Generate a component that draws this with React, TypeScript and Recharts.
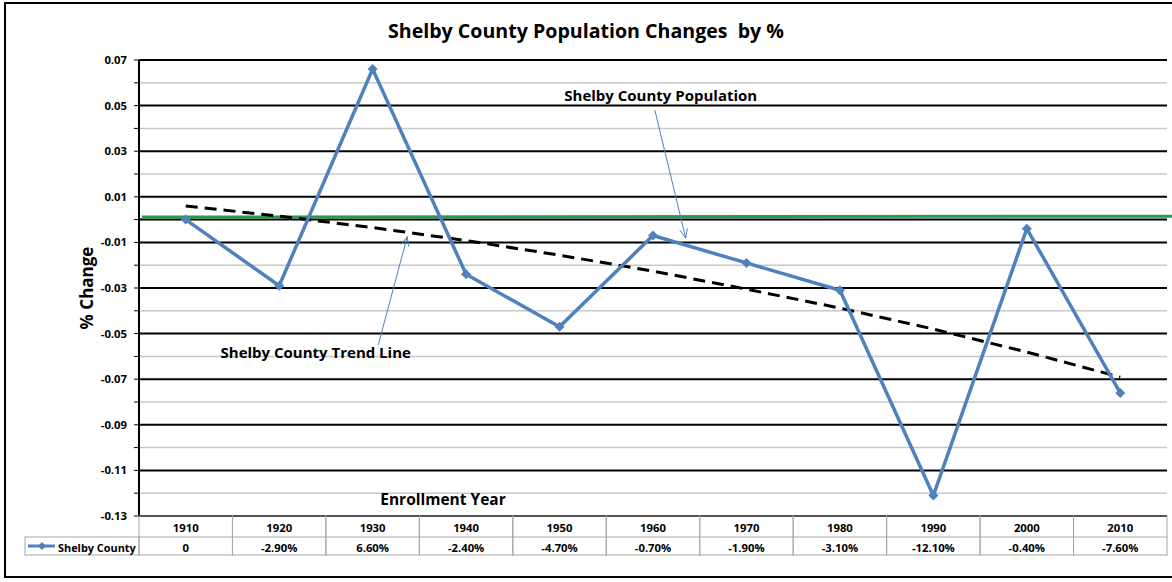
import React from 'react';
import {
  LineChart, Line, XAxis, YAxis, ReferenceLine, ReferenceDot,
} from 'recharts';

const years = ['1910', '1920', '1930', '1940', '1950', '1960', '1970', '1980', '1990', '2000', '2010'];
const shelbyCounty = [0, -0.029, 0.066, -0.024, -0.047, -0.007, -0.019, -0.031, -0.121, -0.004, -0.076];
const tableLabels = ['0', '-2.90%', '6.60%', '-2.40%', '-4.70%', '-0.70%', '-1.90%', '-3.10%', '-12.10%', '-0.40%', '-7.60%'];
const trendLine = [0.006, 0.0015, -0.0035, -0.0092, -0.0156, -0.0226, -0.0305, -0.0388, -0.048, -0.0581, -0.0691];
const yMajorTicks = [0.07, 0.05, 0.03, 0.01, -0.01, -0.03, -0.05, -0.07, -0.09, -0.11, -0.13];
const yMinorTicks = [0.06, 0.04, 0.02, 0.0, -0.02, -0.04, -0.06, -0.08, -0.1, -0.12];
const greenLine = [{ x: -0.47, y: 0.0011 }, { x: 10.56, y: 0.0015 }];
const arrows = [
  { from: { x: 5.02, y: 0.048 }, to: { x: 5.35, y: -0.0081 } },
  { from: { x: 2.06, y: -0.055 }, to: { x: 2.37, y: -0.0075 } },
];
const notes = [
  { x: 5.083, y: 0.0546, text: 'Shelby County Population' },
  { x: 1.391, y: -0.0581, text: 'Shelby County Trend Line' },
];

const data = years.map((year, i) => ({
  i, year, shelby: shelbyCounty[i], trend: trendLine[i], label: tableLabels[i],
}));
const idx = years.map((_, i) => i);
const yTicks = [...yMajorTicks, ...yMinorTicks].sort((a, b) => b - a);

const FONT = '"Open Sans", Lato, sans-serif';
const BLUE = '#4f81bd';
const W = 1172;
const H = 582;
const M = { top: 60, right: 5, bottom: 26, left: 0 };
const YW = 139;
const BAND = (W - M.right - M.left - YW) / years.length;
const ROW = 20;
const GRID = '#a6a6a6';
const TICK_FS = 11.3;

const TableTick = (props: any) => {
  const { x, y, payload } = props;
  const i = payload.value as number;
  const left = x - BAND / 2;
  return (
    <g>
      <rect x={left} y={y} width={BAND} height={ROW * 2 - 1} fill="none" stroke={GRID} strokeWidth={1} />
      <line x1={left} x2={left + BAND} y1={y + ROW + 1} y2={y + ROW + 1} stroke={GRID} strokeWidth={1} />
      <text x={x} y={y + 11} textAnchor="middle" dominantBaseline="central" fontFamily={FONT} fontWeight={700} fontSize={TICK_FS} fill="#000">
        {years[i]}
      </text>
      <text x={x} y={y + ROW + 11} textAnchor="middle" dominantBaseline="central" fontFamily={FONT} fontWeight={700} fontSize={TICK_FS} fill="#000">
        {tableLabels[i]}
      </text>
      {i === 0 && (
        <g>
          <rect x={left - 114} y={y + ROW + 1} width={114} height={ROW - 2} fill="none" stroke={GRID} strokeWidth={1} />
          <line x1={left - 111} x2={left - 84} y1={y + ROW + 10} y2={y + ROW + 10} stroke={BLUE} strokeWidth={3} />
          <path d={`M ${left - 97} ${y + ROW + 6} L ${left - 93} ${y + ROW + 10} L ${left - 97} ${y + ROW + 14} L ${left - 101} ${y + ROW + 10} Z`} fill={BLUE} />
          <text x={left - 81} y={y + ROW + 11} dominantBaseline="central" fontFamily={FONT} fontWeight={700} fontSize={10.9} fill="#000">
            Shelby County
          </text>
        </g>
      )}
    </g>
  );
};

const Diamond = (props: any) => {
  const { cx, cy, index } = props;
  if (cx == null || cy == null) return <g key={`d-${index}`} />;
  return (
    <path key={`d-${index}`} d={`M ${cx} ${cy - 5} L ${cx + 5} ${cy} L ${cx} ${cy + 5} L ${cx - 5} ${cy} Z`} fill={BLUE} />
  );
};

const ArrowShape = (props: any) => {
  const { x1, y1, x2, y2 } = props;
  const ang = Math.atan2(y2 - y1, x2 - x1);
  const len = 10;
  const spread = 0.4;
  const ax = x2 - len * Math.cos(ang - spread);
  const ay = y2 - len * Math.sin(ang - spread);
  const bx = x2 - len * Math.cos(ang + spread);
  const by = y2 - len * Math.sin(ang + spread);
  return (
    <g>
      <line x1={x1} y1={y1} x2={x2} y2={y2} stroke={BLUE} strokeWidth={1} />
      <polyline points={`${ax},${ay} ${x2},${y2} ${bx},${by}`} fill="none" stroke={BLUE} strokeWidth={1} />
    </g>
  );
};

const NoteShape = (text: string) => (props: any) => (
  <text x={props.cx} y={props.cy} textAnchor="middle" dominantBaseline="central" fontFamily={FONT} fontWeight={700} fontSize={15} fill="#000">
    {text}
  </text>
);

const YLabel = (props: any) => {
  const vb = props.viewBox || { x: 0, y: 0, width: 0, height: 0 };
  const cx = vb.x + 86;
  const cy = vb.y + vb.height / 2;
  return (
    <text x={cx} y={cy} transform={`rotate(-90 ${cx} ${cy})`} textAnchor="middle" dominantBaseline="central" fontFamily={FONT} fontWeight={700} fontSize={17} fill="#000">
      % Change
    </text>
  );
};

const XLabel = (props: any) => {
  const vb = props.viewBox || { x: 0, y: 0, width: 0, height: 0 };
  return (
    <text x={vb.x + 304} y={vb.y - 17} textAnchor="middle" dominantBaseline="central" fontFamily={FONT} fontWeight={700} fontSize={15.5} fill="#000">
      Enrollment Year
    </text>
  );
};

export default function App() {
  return (
    <div style={{ position: 'absolute', left: 0, top: 0, width: W, height: H, background: '#fff', overflow: 'hidden' }}>
      <div style={{ position: 'absolute', left: 4, top: 2, width: W + 20, height: H - 6, border: '2px solid #000', boxSizing: 'border-box' }} />
      <div style={{ position: 'absolute', left: 0, top: 18, width: W, textAlign: 'center', fontFamily: FONT, fontWeight: 700, fontSize: 19.6, lineHeight: '26px', color: '#000', whiteSpace: 'pre' }}>
        {'Shelby County Population Changes  by %'}
      </div>
      <div style={{ position: 'absolute', left: 0, top: 0 }}>
        <LineChart width={W} height={H} data={data} margin={M}>
          <XAxis
            dataKey="i"
            type="number"
            domain={[-0.5, 10.5]}
            ticks={idx}
            interval={0}
            tick={<TableTick />}
            tickLine={false}
            axisLine={false}
            tickSize={0}
            tickMargin={0}
            height={40}
            label={<XLabel />}
          />
          <YAxis
            type="number"
            domain={[-0.13, 0.07]}
            ticks={yTicks}
            interval={0}
            width={YW}
            allowDataOverflow
            tickFormatter={(v: number) => (yMajorTicks.some((m) => Math.abs(m - v) < 1e-9) ? v.toFixed(2) : '')}
            tick={{ fontFamily: FONT, fontWeight: 700, fontSize: TICK_FS, fill: '#000' }}
            tickSize={5}
            tickMargin={7}
            tickLine={{ stroke: '#000', strokeWidth: 1 }}
            axisLine={{ stroke: '#000', strokeWidth: 2 }}
            label={<YLabel />}
          />
          {yMinorTicks.map((v) => (
            <ReferenceLine key={`mn-${v}`} y={v} stroke="#c8c8c8" strokeWidth={1.5} />
          ))}
          {yMajorTicks.map((v) => (
            <ReferenceLine key={`mj-${v}`} y={v} stroke="#000" strokeWidth={2} />
          ))}
          <ReferenceLine y={0} stroke="#000" strokeWidth={2} />
          <ReferenceLine segment={greenLine} stroke="#1fa048" strokeWidth={3} ifOverflow="visible" />
          {arrows.map((a, k) => (
            <ReferenceLine key={`ar-${k}`} segment={[a.from, a.to]} ifOverflow="visible" shape={ArrowShape} />
          ))}
          {notes.map((n) => (
            <ReferenceDot key={n.text} x={n.x} y={n.y} r={0} ifOverflow="visible" shape={NoteShape(n.text)} />
          ))}
          <Line dataKey="trend" type="linear" stroke="#000" strokeWidth={3} strokeDasharray="12 7" dot={false} activeDot={false} isAnimationActive={false} />
          <Line dataKey="shelby" type="linear" stroke={BLUE} strokeWidth={3.5} dot={Diamond} activeDot={false} isAnimationActive={false} />
        </LineChart>
      </div>
    </div>
  );
}
